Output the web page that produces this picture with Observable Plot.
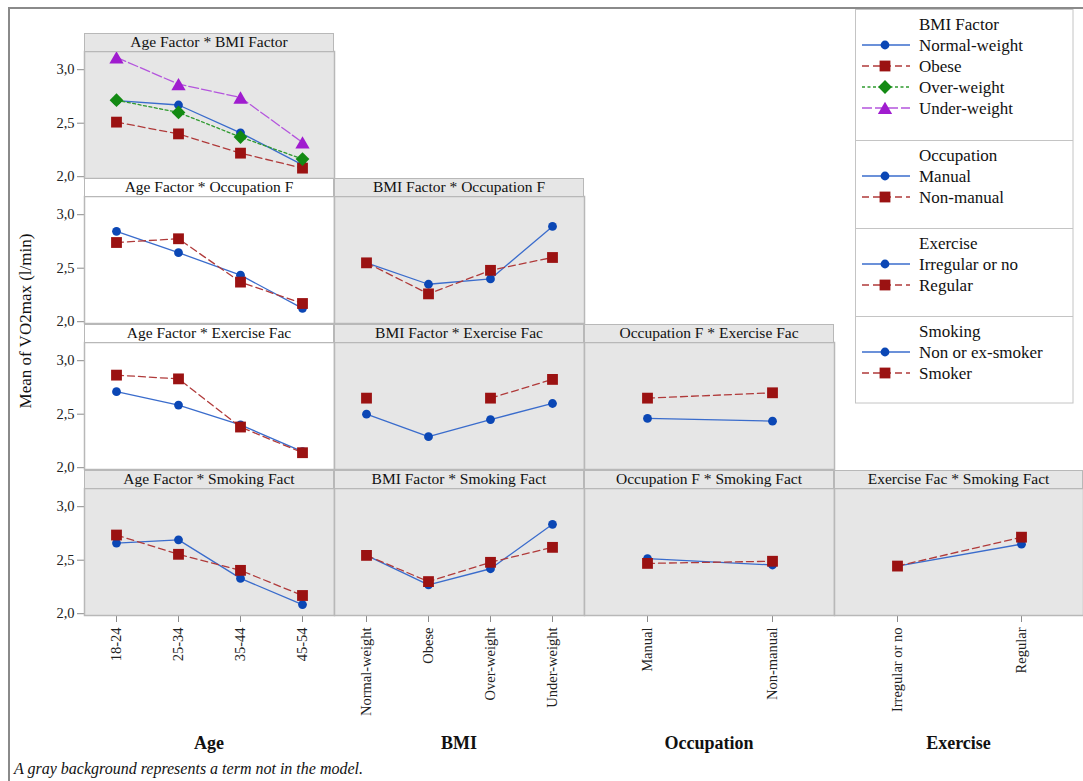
<!DOCTYPE html>
<html><head><meta charset="utf-8">
<script src="https://cdn.jsdelivr.net/npm/d3@7"></script>
<script src="https://cdn.jsdelivr.net/npm/@observablehq/plot@0.6"></script>
<style>
html,body{margin:0;padding:0;background:#fff;}
#root{position:relative;width:1083px;height:781px;overflow:hidden;font-family:"Liberation Serif","Times New Roman",serif;color:#111;background:#fff;}
.abs{position:absolute;}
.strip{position:absolute;box-sizing:border-box;height:19px;border:1px solid #b8b8b8;text-align:center;font-size:15.5px;line-height:16px;white-space:nowrap;color:#111;}
.coltitle{position:absolute;width:250px;text-align:center;font-weight:bold;font-size:18px;line-height:20px;}
g[aria-label="y-axis tick"] path, g[aria-label="x-axis tick"] path{stroke:#8c8c8c;}
g[aria-label="y-axis tick label"], g[aria-label="x-axis tick label"]{fill:#222;}
</style></head>
<body><div id="root"></div>
<script>
// ---- categories ----
const ageLevels = ["18-24", "25-34", "35-44", "45-54"];
const bmiLevels = ["Normal-weight", "Obese", "Over-weight", "Under-weight"];
const occLevels = ["Manual", "Non-manual"];
const exLevels = ["Irregular or no", "Regular"];
const smokeLevels = ["Non or ex-smoker", "Smoker"];
const columnTitles = ["Age", "BMI", "Occupation", "Exercise"];

// ---- series values (mean VO2max, l/min) ----
const ageBmiNormal = [2.71, 2.67, 2.41, 2.11];
const ageBmiObese = [2.51, 2.40, 2.22, 2.08];
const ageBmiOver = [2.715, 2.60, 2.37, 2.165];
const ageBmiUnder = [3.115, 2.865, 2.74, 2.32];

const ageOccManual = [2.845, 2.645, 2.435, 2.125];
const ageOccNonManual = [2.74, 2.775, 2.37, 2.17];
const bmiOccManual = [2.55, 2.35, 2.40, 2.89];
const bmiOccNonManual = [2.55, 2.26, 2.48, 2.60];

const ageExIrregular = [2.71, 2.585, 2.40, 2.15];
const ageExRegular = [2.865, 2.83, 2.38, 2.14];
const bmiExIrregular = [2.50, 2.29, 2.45, 2.60];
const bmiExRegular = [2.65, null, 2.65, 2.825];
const occExIrregular = [2.46, 2.435];
const occExRegular = [2.65, 2.70];

const ageSmokeNon = [2.66, 2.69, 2.33, 2.085];
const ageSmokeSmoker = [2.735, 2.555, 2.405, 2.17];
const bmiSmokeNon = [2.545, 2.27, 2.42, 2.835];
const bmiSmokeSmoker = [2.545, 2.30, 2.48, 2.62];
const occSmokeNon = [2.515, 2.455];
const occSmokeSmoker = [2.47, 2.49];
const exSmokeNon = [2.445, 2.65];
const exSmokeSmoker = [2.445, 2.715];

const yTicks = [2.0, 2.5, 3.0];

// ---- styles ----
const styles = {
  blue:   {line: "#3a6ccc", fill: "#0b47b5", symbol: "circle",   r: 4.4, dash: null,     dy: 0},
  red:    {line: "#b03a3a", fill: "#9b1212", symbol: "square",   r: 6.1, dash: "7,4",    dy: 0},
  green:  {line: "#2f9a2f", fill: "#138a13", symbol: "diamond2", r: 6.2, dash: "3,2.5",  dy: 0},
  purple: {line: "#b455dd", fill: "#a01ccf", symbol: "triangle", r: 5.3, dash: "10,3",   dy: 2}
};

// ---- layout ----
const colLevels = [ageLevels, bmiLevels, occLevels, exLevels];
const colLeft = [84, 334, 584, 834];
const colWidth = [250, 250, 250, 249];
const stripTop = [33, 178, 324, 470];
const plotTop = [51, 196, 342, 488];
const plotH = 127;
const yHi = 3.17, yLo = 3.17 - plotH / 107;

const panels = [
  {row: 0, col: 0, title: "Age Factor * BMI Factor", gray: true,
   series: [["blue", ageBmiNormal], ["red", ageBmiObese], ["green", ageBmiOver], ["purple", ageBmiUnder]]},
  {row: 1, col: 0, title: "Age Factor * Occupation F", gray: false,
   series: [["blue", ageOccManual], ["red", ageOccNonManual]]},
  {row: 1, col: 1, title: "BMI Factor * Occupation F", gray: true,
   series: [["blue", bmiOccManual], ["red", bmiOccNonManual]]},
  {row: 2, col: 0, title: "Age Factor * Exercise Fac", gray: false,
   series: [["blue", ageExIrregular], ["red", ageExRegular]]},
  {row: 2, col: 1, title: "BMI Factor * Exercise Fac", gray: true,
   series: [["blue", bmiExIrregular], ["red", bmiExRegular]]},
  {row: 2, col: 2, title: "Occupation F * Exercise Fac", gray: true,
   series: [["blue", occExIrregular], ["red", occExRegular]]},
  {row: 3, col: 0, title: "Age Factor * Smoking Fact", gray: true,
   series: [["blue", ageSmokeNon], ["red", ageSmokeSmoker]]},
  {row: 3, col: 1, title: "BMI Factor * Smoking Fact", gray: true,
   series: [["blue", bmiSmokeNon], ["red", bmiSmokeSmoker]]},
  {row: 3, col: 2, title: "Occupation F * Smoking Fact", gray: true,
   series: [["blue", occSmokeNon], ["red", occSmokeSmoker]]},
  {row: 3, col: 3, title: "Exercise Fac * Smoking Fact", gray: true,
   series: [["blue", exSmokeNon], ["red", exSmokeSmoker]]}
];

const root = document.getElementById("root");

// outer frame
const frame = document.createElement("div");
frame.className = "abs";
Object.assign(frame.style, {left: "8px", top: "7px", width: "1200px", height: "900px",
  borderLeft: "2px solid #8a8a8a", borderTop: "2px solid #8a8a8a"});
root.appendChild(frame);

const fmt = d => d.toFixed(1).replace(".", ",");

for (const p of panels) {
  const ml = p.col === 0 ? 54 : 0;
  const mb = p.row === 3 ? 112 : 0;
  const xs = colLevels[p.col];
  const marks = [Plot.frame({fill: p.gray ? "#e6e6e6" : "#ffffff", stroke: "#b8b8b8", strokeWidth: 1.5})];
  const tables = p.series.map(([key, vals]) => [key, xs.map((x, i) => ({x, y: vals[i]}))]);
  for (const [key, rows] of tables) {
    const st = styles[key];
    marks.push(Plot.lineY(rows, {x: "x", y: "y", stroke: st.line, strokeWidth: 1.3, strokeDasharray: st.dash}));
  }
  for (const [key, rows] of tables) {
    const st = styles[key];
    marks.push(Plot.dot(rows.filter(d => d.y != null), {x: "x", y: "y", symbol: st.symbol, r: st.r, fill: st.fill, dy: st.dy}));
  }
  const chart = Plot.plot({
    width: colWidth[p.col] + ml,
    height: plotH + mb,
    marginLeft: ml, marginRight: 0, marginTop: 0, marginBottom: mb,
    style: {fontFamily: "Liberation Serif, Times New Roman, serif", fontSize: "14.5px", background: "transparent", overflow: "visible"},
    x: {type: "point", domain: xs, padding: 0.5, axis: p.row === 3 ? "bottom" : null,
        tickRotate: -90, tickSize: 7, tickPadding: 5, label: null},
    y: {domain: [yLo, yHi], axis: p.col === 0 ? "left" : null, ticks: yTicks, tickFormat: fmt,
        tickSize: 7, tickPadding: 3, label: null},
    marks
  });
  const wrap = document.createElement("div");
  wrap.className = "abs";
  Object.assign(wrap.style, {left: (colLeft[p.col] - ml) + "px", top: plotTop[p.row] + "px",
    width: (colWidth[p.col] + ml) + "px", height: (plotH + mb) + "px"});
  wrap.appendChild(chart);
  root.appendChild(wrap);

  const strip = document.createElement("div");
  strip.className = "strip";
  Object.assign(strip.style, {left: colLeft[p.col] + "px", top: stripTop[p.row] + "px",
    width: colWidth[p.col] + "px", background: p.gray ? "#e6e6e6" : "#ffffff"});
  strip.textContent = p.title;
  root.appendChild(strip);
}

// column titles
columnTitles.forEach((t, i) => {
  const d = document.createElement("div");
  d.className = "coltitle";
  Object.assign(d.style, {left: colLeft[i] + "px", top: "733px", width: colWidth[i] + "px"});
  d.textContent = t;
  root.appendChild(d);
});

// y-axis title
const yl = document.createElement("div");
yl.className = "abs";
Object.assign(yl.style, {left: (26 - 110) + "px", top: (321 - 10) + "px", width: "220px", height: "20px",
  lineHeight: "20px", textAlign: "center", fontSize: "17px", transform: "rotate(-90deg)", whiteSpace: "nowrap"});
yl.textContent = "Mean of VO2max (l/min)";
root.appendChild(yl);

// footnote
const fn = document.createElement("div");
fn.className = "abs";
Object.assign(fn.style, {left: "14px", top: "760px", fontSize: "16px", fontStyle: "italic", lineHeight: "18px", whiteSpace: "nowrap"});
fn.textContent = "A gray background represents a term not in the model.";
root.appendChild(fn);

// legend
const legendGroups = [
  {title: "BMI Factor", items: bmiLevels, keys: ["blue", "red", "green", "purple"]},
  {title: "Occupation", items: occLevels, keys: ["blue", "red"]},
  {title: "Exercise", items: exLevels, keys: ["blue", "red"]},
  {title: "Smoking", items: smokeLevels, keys: ["blue", "red"]}
];
const groupTop = [0, 131, 219, 307];
const lg = d3.create("svg").attr("width", 220).attr("height", 396)
  .style("position", "absolute").style("left", "855px").style("top", "9px")
  .style("font-family", "Liberation Serif, Times New Roman, serif").style("font-size", "17px");
lg.append("rect").attr("x", 0.5).attr("y", 0.5).attr("width", 217.5).attr("height", 393.5)
  .attr("fill", "#fff").attr("stroke", "#c4c4c4");
groupTop.slice(1).forEach(t => lg.append("line").attr("x1", 0.5).attr("x2", 218).attr("y1", t + 0.5).attr("y2", t + 0.5).attr("stroke", "#c4c4c4"));
legendGroups.forEach((g, gi) => {
  const t0 = groupTop[gi];
  lg.append("text").attr("x", 64).attr("y", t0 + 15).attr("dy", "0.35em").attr("fill", "#111").text(g.title);
  g.items.forEach((name, i) => {
    const st = styles[g.keys[i]];
    const yy = t0 + 36 + i * 21;
    lg.append("line").attr("x1", 7).attr("x2", 55).attr("y1", yy).attr("y2", yy)
      .attr("stroke", st.line).attr("stroke-width", 1.3).attr("stroke-dasharray", st.dash);
    const sym = {circle: d3.symbolCircle, square: d3.symbolSquare, diamond2: d3.symbolDiamond2, triangle: d3.symbolTriangle}[st.symbol];
    lg.append("path").attr("d", d3.symbol(sym, Math.PI * st.r * st.r)())
      .attr("transform", `translate(30,${yy + st.dy})`).attr("fill", st.fill);
    lg.append("text").attr("x", 64).attr("y", yy).attr("dy", "0.35em").attr("fill", "#111").text(name);
  });
});
root.appendChild(lg.node());
</script>
</body></html>
